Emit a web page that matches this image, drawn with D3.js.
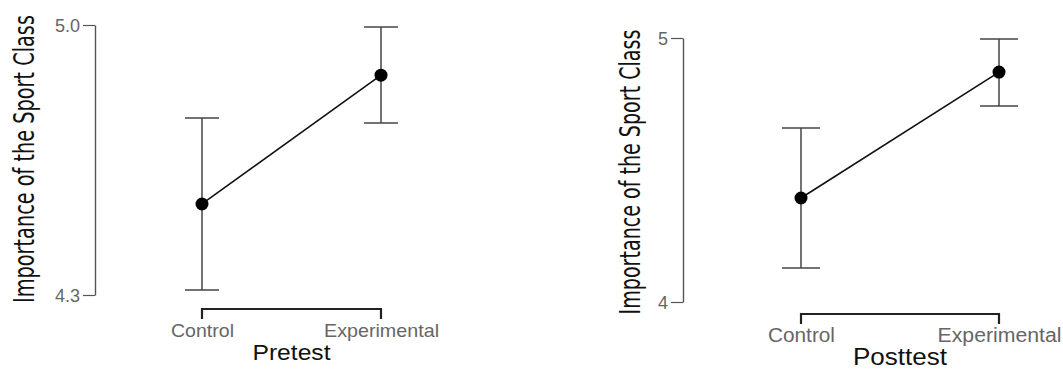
<!DOCTYPE html>
<html>
<head>
<meta charset="utf-8">
<script src="https://cdn.jsdelivr.net/npm/d3@7"></script>
<style>
  body { margin: 0; background: #fff; }
  svg { display: block; }
</style>
</head>
<body>
<div id="plot"></div>
<script>
// data
var groups = ['Control', 'Experimental'];

var preMeans = [4.536, 4.870];
var preLower = [4.313, 4.746];
var preUpper = [4.759, 4.995];
var preTicks = [4.3, 5.0];

var postMeans = [4.394, 4.871];
var postLower = [4.129, 4.742];
var postUpper = [4.659, 4.996];
var postTicks = [4, 5];

var yTitle = 'Importance of the Sport Class';

var W = 1063, H = 370;
var svg = d3.select('#plot').append('svg')
    .attr('width', W)
    .attr('height', H);

// one panel = y axis, bracket x axis, error bars, line, points
function drawPanel(p) {
    var g = svg.append('g');

    var x = d3.scalePoint().domain(groups).range(p.xRange).padding(0);
    var y = d3.scaleLinear().domain(p.yDomain).range(p.yRange);

    // y axis
    var ya = g.append('g')
        .attr('transform', 'translate(' + p.axisX + ',0)')
        .call(d3.axisLeft(y).tickValues(p.ticks).tickFormat(d3.format(p.fmt))
            .tickSizeInner(12).tickSizeOuter(0).tickPadding(3));
    ya.select('.domain').attr('stroke', '#555').attr('stroke-width', 1.4);
    ya.selectAll('.tick line').attr('stroke', '#555').attr('stroke-width', 1.2);
    ya.selectAll('.tick text')
        .attr('fill', '#666')
        .attr('dy', '0.36em')
        .style('font-family', 'Liberation Sans, Arial, sans-serif')
        .style('font-size', p.tickFont + 'px');

    // x axis bracket
    var xa = g.append('g')
        .attr('transform', 'translate(0,' + p.bracketY + ')')
        .call(d3.axisBottom(x).tickSizeInner(10).tickSizeOuter(0));
    xa.select('.domain').attr('stroke', '#222').attr('stroke-width', 2.2)
        .attr('d', 'M' + p.xRange[0] + ',10V0H' + p.xRange[1] + 'V10');
    xa.selectAll('.tick line').remove();
    xa.selectAll('.tick text')
        .attr('fill', '#666')
        .attr('y', p.labelDy)
        .attr('dy', 0)
        .attr('textLength', function (d, i) { return p.labelLen[i]; })
        .attr('lengthAdjust', 'spacingAndGlyphs')
        .style('font-family', 'Liberation Sans, Arial, sans-serif')
        .style('font-size', p.labelFont + 'px');

    // x title
    g.append('text')
        .attr('x', (p.xRange[0] + p.xRange[1]) / 2)
        .attr('y', p.titleY)
        .attr('text-anchor', 'middle')
        .attr('textLength', p.titleLen)
        .attr('lengthAdjust', 'spacingAndGlyphs')
        .style('font-family', 'Liberation Sans, Arial, sans-serif')
        .style('font-size', p.titleFont + 'px')
        .attr('fill', '#111')
        .text(p.title);

    // y title, squeezed along its length with a scale
    var yt = g.append('text')
        .attr('text-anchor', 'middle')
        .style('font-family', 'DejaVu Sans Condensed, DejaVu Sans, sans-serif')
        .style('font-size', '28px')
        .attr('fill', '#111')
        .text(yTitle);
    var natural = yt.node().getComputedTextLength();
    yt.attr('transform', 'translate(' + p.yTitleX + ',' + p.yTitleMid + ') rotate(-90) scale(' +
        (p.yTitleLen / natural) + ',1)');

    var rows = groups.map(function (d, i) {
        return { g: d, m: p.means[i], lo: p.lower[i], hi: p.upper[i] };
    });

    // error bars
    var eb = g.append('g').attr('stroke', '#444').attr('stroke-width', 1.5);
    rows.forEach(function (r) {
        eb.append('line')
            .attr('x1', x(r.g)).attr('x2', x(r.g))
            .attr('y1', y(r.lo)).attr('y2', y(r.hi));
        eb.append('line')
            .attr('x1', x(r.g) - p.cap).attr('x2', x(r.g) + p.cap)
            .attr('y1', y(r.lo)).attr('y2', y(r.lo));
        eb.append('line')
            .attr('x1', x(r.g) - p.cap).attr('x2', x(r.g) + p.cap)
            .attr('y1', y(r.hi)).attr('y2', y(r.hi));
    });

    // connecting line
    g.append('path')
        .datum(rows)
        .attr('fill', 'none')
        .attr('stroke', '#111')
        .attr('stroke-width', 1.6)
        .attr('d', d3.line().x(function (d) { return x(d.g); }).y(function (d) { return y(d.m); }));

    g.selectAll('circle.pt')
        .data(rows)
        .enter().append('circle')
        .attr('class', 'pt')
        .attr('cx', function (d) { return x(d.g); })
        .attr('cy', function (d) { return y(d.m); })
        .attr('r', 6.5)
        .attr('fill', '#000');
}

drawPanel({
    means: preMeans, lower: preLower, upper: preUpper,
    ticks: preTicks, fmt: '.1f', yDomain: [4.3, 5.0], yRange: [295, 25],
    xRange: [202, 381], axisX: 95, bracketY: 309, titleY: 360,
    labelDy: 28, labelLen: [63, 115], labelFont: 19, tickFont: 18,
    titleLen: 78, titleFont: 22,
    yTitleX: 34, yTitleMid: 159, yTitleLen: 288, cap: 17, title: 'Pretest'
});

drawPanel({
    means: postMeans, lower: postLower, upper: postUpper,
    ticks: postTicks, fmt: 'd', yDomain: [4, 5], yRange: [302, 38],
    xRange: [801, 999], axisX: 683, bracketY: 314, titleY: 365,
    labelDy: 28, labelLen: [67, 124], labelFont: 20, tickFont: 18,
    titleLen: 94, titleFont: 24,
    yTitleX: 640, yTitleMid: 172, yTitleLen: 285, cap: 19, title: 'Posttest'
});
</script>
</body>
</html>
